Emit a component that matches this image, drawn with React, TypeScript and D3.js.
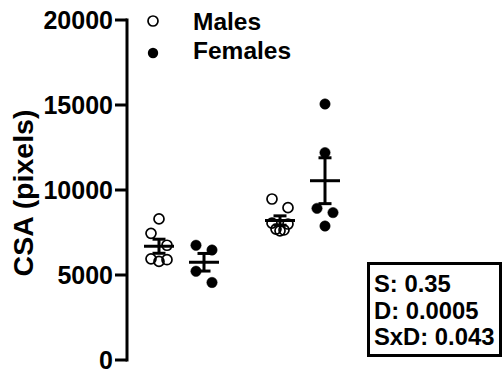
import React from "react";
import * as d3 from "d3";

const conditions = ["Condition 1", "Condition 2"];
const sexes = ["Males", "Females"];
const males1 = [8300, 7450, 6750, 5950, 5900, 5800];
const females1 = [6750, 6470, 5220, 4560];
const males2 = [9470, 8960, 8050, 8000, 7700, 7650, 7600];
const females2 = [15060, 12200, 8920, 8670, 7880];
const yTicks = [0, 5000, 10000, 15000, 20000];
const statsLines = ["S: 0.35", "D: 0.0005", "SxD: 0.043"];

const groups = [
  { condition: conditions[0], sex: sexes[0], values: males1 },
  { condition: conditions[0], sex: sexes[1], values: females1 },
  { condition: conditions[1], sex: sexes[0], values: males2 },
  { condition: conditions[1], sex: sexes[1], values: females2 },
];

const W = 503;
const H = 374;
const FONT = "'Liberation Sans', Arial, Helvetica, sans-serif";

const y = d3.scaleLinear().domain([0, 20000]).range([360, 20]);
const xCond = d3.scaleBand<string>().domain(conditions).range([121, 363]);
const xSex = d3.scalePoint<string>().domain(sexes).range([-22.5, 22.5]);

function swarm(values: number[], rowGap = 14, halfWidth = 8) {
  const pts = values.map((v) => ({ v, py: y(v), dx: 0 })).sort((a, b) => a.py - b.py);
  const rows: typeof pts[] = [];
  for (const p of pts) {
    const row = rows[rows.length - 1];
    if (row && p.py - row[0].py < rowGap) row.push(p);
    else rows.push([p]);
  }
  for (const row of rows) {
    const n = row.length;
    if (n === 1) { row[0].dx = 0; continue; }
    const pos = d3.range(n).map((i) => -halfWidth + (2 * halfWidth * i) / (n - 1));
    const seq: number[] = [];
    let lo = 0, hi = n - 1;
    while (lo <= hi) {
      seq.push(lo);
      if (hi !== lo) seq.push(hi);
      lo++; hi--;
    }
    row.forEach((p, k) => { p.dx = pos[seq[k]]; });
  }
  return pts;
}

export default function App() {
  const axisX = 127;
  return (
    <svg width={W} height={H} style={{ position: "absolute", left: 0, top: 0, background: "#fff" }}
      fontFamily={FONT} fontWeight="bold">
      {/* Y axis */}
      <line x1={axisX} x2={axisX} y1={y(20000) - 1.5} y2={y(0) + 1.5} stroke="#000" strokeWidth={3} />
      {yTicks.map((t) => (
        <g key={t}>
          <line x1={axisX - 12} x2={axisX} y1={y(t)} y2={y(t)} stroke="#000" strokeWidth={3} />
          <text x={axisX - 14} y={y(t)} dy="0.36em" textAnchor="end" fontSize={25} fill="#000">{t}</text>
        </g>
      ))}
      <text transform={`translate(33,193) rotate(-90)`} textAnchor="middle" fontSize={28.5} fill="#000">CSA (pixels)</text>

      {/* Groups */}
      {groups.map((g, i) => {
        const cx = (xCond(g.condition) as number) + xCond.bandwidth() / 2 + (xSex(g.sex) as number);
        const mean = d3.mean(g.values) as number;
        const sem = (d3.deviation(g.values) as number) / Math.sqrt(g.values.length);
        const pts = swarm(g.values);
        const filled = g.sex === "Females";
        return (
          <g key={i}>
            {pts.map((p, j) => (
              <circle key={j} cx={cx + p.dx} cy={p.py} r={filled ? 5.2 : 5}
                fill={filled ? "#000" : "none"} stroke="#000" strokeWidth={filled ? 0.5 : 1.7} />
            ))}
            <line x1={cx} x2={cx} y1={y(mean + sem)} y2={y(mean - sem)} stroke="#000" strokeWidth={3} />
            <line x1={cx - 6.5} x2={cx + 6.5} y1={y(mean + sem)} y2={y(mean + sem)} stroke="#000" strokeWidth={3} />
            <line x1={cx - 6.5} x2={cx + 6.5} y1={y(mean - sem)} y2={y(mean - sem)} stroke="#000" strokeWidth={3} />
            <line x1={cx - 15} x2={cx + 15} y1={y(mean)} y2={y(mean)} stroke="#000" strokeWidth={3} />
          </g>
        );
      })}

      {/* Legend */}
      <circle cx={153} cy={21} r={5} fill="none" stroke="#000" strokeWidth={1.7} />
      <text x={193} y={29.5} fontSize={24.5} fill="#000">{sexes[0]}</text>
      <circle cx={153} cy={53} r={5.2} fill="#000" />
      <text x={193} y={59} fontSize={24.5} fill="#000">{sexes[1]}</text>

      {/* Stats box */}
      <rect x={368.5} y={263.5} width={132} height={92} fill="#fff" stroke="#000" strokeWidth={3} />
      {statsLines.map((s, i) => (
        <text key={i} x={374} y={292 + i * 26.5} fontSize={23.8} fill="#000">{s}</text>
      ))}
    </svg>
  );
}
